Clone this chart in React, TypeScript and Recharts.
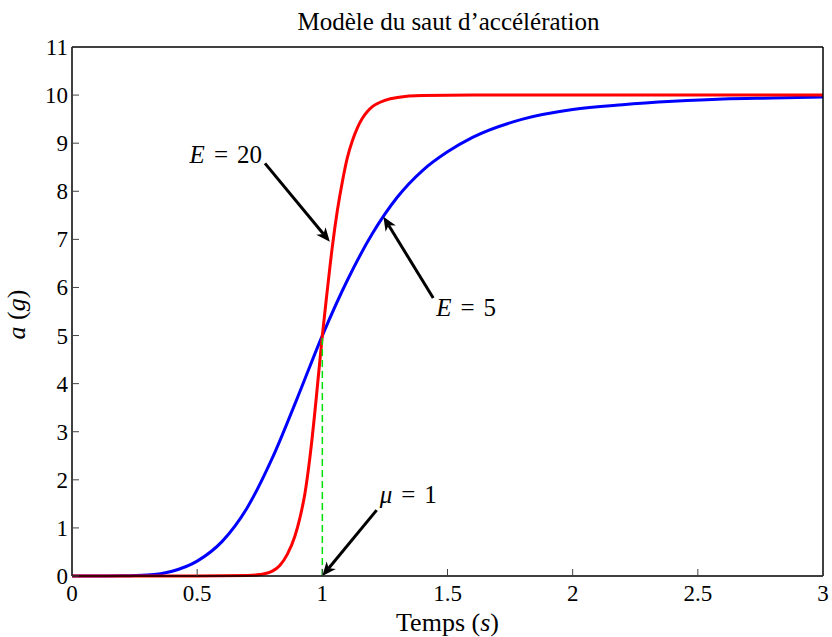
import React from "react";
import { LineChart, Line, XAxis, YAxis, ReferenceLine } from "recharts";

// E = 5 (blue)
const blueTime = [0, 0.1, 0.2, 0.3, 0.4, 0.5, 0.6, 0.7, 0.8, 0.9, 1.0, 1.1, 1.2, 1.3, 1.4, 1.5, 1.6, 1.8, 2.0, 2.2, 2.4, 2.6, 2.8, 3.0];
const blueAccel = [0, 0, 0.003, 0.02, 0.1, 0.31, 0.72, 1.42, 2.45, 3.7, 5.0, 6.15, 7.12, 7.88, 8.43, 8.82, 9.12, 9.5, 9.7, 9.8, 9.87, 9.92, 9.94, 9.96];

// E = 20 (red)
const redTime = [0, 0.5, 0.7, 0.75, 0.8, 0.83, 0.86, 0.89, 0.91, 0.93, 0.95, 0.97, 0.985, 1.0, 1.02, 1.04, 1.06, 1.08, 1.1, 1.12, 1.14, 1.16, 1.18, 1.2, 1.25, 1.3, 1.4, 1.6, 2.0, 2.5, 3.0];
const redAccel = [0, 0, 0.01, 0.03, 0.1, 0.22, 0.45, 0.82, 1.2, 1.7, 2.45, 3.4, 4.2, 5.0, 5.95, 6.85, 7.6, 8.2, 8.7, 9.05, 9.32, 9.52, 9.66, 9.76, 9.89, 9.95, 9.99, 10, 10, 10, 10];

const xTicks = [0, 0.5, 1, 1.5, 2, 2.5, 3];
const yTicks = [0, 1, 2, 3, 4, 5, 6, 7, 8, 9, 10, 11];

// annotations (data coordinates)
const arrowSymbol = ["E", "E", "μ"];
const arrowValue = ["20", "5", "1"];
const arrowStartT = [0.771, 1.443, 1.217];
const arrowStartA = [8.58, 5.78, 1.37];
const arrowTipT = [1.03, 1.244, 1.0];
const arrowTipA = [6.95, 7.47, 0];

const muT = 1;
const muA = 5;

const blueData = blueTime.map((t, i) => ({ t, a: blueAccel[i] }));
const redData = redTime.map((t, i) => ({ t, a: redAccel[i] }));

const FONT = "'Liberation Serif', 'Times New Roman', serif";
const TICK_LEN = 7;
const TICK_COLOR = "#444";

// label placement relative to arrow tail: [dx, dy, anchor]
const LABEL_POS: [number, number, "start" | "end"][] = [
  [-3, 0, "end"],
  [3, 18, "start"],
  [3, -7, "start"],
];

const makeArrow = (i: number) => (props: any) => {
  const { x1, y1, x2, y2 } = props;
  const dx = x2 - x1;
  const dy = y2 - y1;
  const len = Math.hypot(dx, dy) || 1;
  const ux = dx / len;
  const uy = dy / len;
  const nx = -uy;
  const ny = ux;
  const hl = 14;
  const hw = 6;
  const bx = x2 - ux * hl;
  const by = y2 - uy * hl;
  const notchX = x2 - ux * (hl - 4);
  const notchY = y2 - uy * (hl - 4);
  const pts = [
    [x2, y2],
    [bx + nx * hw, by + ny * hw],
    [notchX, notchY],
    [bx - nx * hw, by - ny * hw],
  ]
    .map((p) => p.join(","))
    .join(" ");
  const [ox, oy, anchor] = LABEL_POS[i];
  return (
    <g>
      <line x1={x1} y1={y1} x2={notchX} y2={notchY} stroke="#000" strokeWidth={3} />
      <polygon points={pts} fill="#000" />
      <text x={x1 + ox} y={y1 + oy} textAnchor={anchor} fontSize={25} style={{ fontFamily: FONT }} fill="#000">
        <tspan fontStyle="italic">{arrowSymbol[i]}</tspan>
        <tspan dx={9}>=</tspan>
        <tspan dx={9}>{arrowValue[i]}</tspan>
      </text>
    </g>
  );
};

const BottomTick = (props: any) => {
  const { x, y, payload } = props;
  return (
    <g>
      <line x1={x} y1={y} x2={x} y2={y - TICK_LEN} stroke={TICK_COLOR} />
      <text x={x} y={y + 25} textAnchor="middle" fontSize={23} style={{ fontFamily: FONT }} fill="#000">
        {String(payload.value)}
      </text>
    </g>
  );
};

const LeftTick = (props: any) => {
  const { x, y, payload } = props;
  return (
    <g>
      <line x1={x} y1={y} x2={x + TICK_LEN} y2={y} stroke={TICK_COLOR} />
      <text x={x - 4} y={y + 8} textAnchor="end" fontSize={23} style={{ fontFamily: FONT }} fill="#000">
        {String(payload.value)}
      </text>
    </g>
  );
};

const TopTick = (props: any) => {
  const { x, y } = props;
  return <line x1={x} y1={y} x2={x} y2={y + TICK_LEN} stroke={TICK_COLOR} />;
};

const RightTick = (props: any) => {
  const { x, y } = props;
  return <line x1={x} y1={y} x2={x - TICK_LEN} y2={y} stroke={TICK_COLOR} />;
};

const TitleLabel = (props: any) => {
  const vb = props.viewBox || {};
  const cx = (vb.x ?? 72) + (vb.width ?? 751) / 2;
  return (
    <text x={cx + 1} y={30} textAnchor="middle" fontSize={25} style={{ fontFamily: FONT }} fill="#000">
      Modèle du saut d’accélération
    </text>
  );
};

const XLabel = (props: any) => {
  const vb = props.viewBox || {};
  const cx = (vb.x ?? 72) + (vb.width ?? 751) / 2;
  return (
    <text x={cx} y={631} textAnchor="middle" fontSize={26} fill="#000" style={{ whiteSpace: "pre", fontFamily: FONT }}>
      Temps (<tspan fontStyle="italic">s</tspan>)
    </text>
  );
};

const YLabel = (props: any) => {
  const vb = props.viewBox || {};
  const cy = (vb.y ?? 47) + (vb.height ?? 529) / 2 + 3;
  const x = 25;
  return (
    <text
      x={x}
      y={cy}
      transform={`rotate(-90, ${x}, ${cy})`}
      textAnchor="middle"
      fontSize={26}
      fill="#000"
      style={{ whiteSpace: "pre", fontFamily: FONT }}
    >
      <tspan fontStyle="italic">a</tspan>
      {" ("}
      <tspan fontStyle="italic">g</tspan>)
    </text>
  );
};

export default function App() {
  return (
    <div style={{ position: "absolute", left: 0, top: 0, background: "#fff", fontFamily: FONT }}>
      <LineChart width={832} height={637} margin={{ top: 46, right: 8, left: 0, bottom: 0 }}>
        <XAxis
          dataKey="t"
          type="number"
          domain={[0, 3]}
          ticks={xTicks}
          height={61}
          tickSize={0}
          tickMargin={0}
          tick={BottomTick}
          axisLine={{ stroke: "#000", strokeWidth: 1.5 }}
          tickLine={false}
          label={XLabel}
        />
        <XAxis
          xAxisId="top"
          orientation="top"
          dataKey="t"
          type="number"
          domain={[0, 3]}
          ticks={xTicks}
          height={1}
          tickSize={0}
          tickMargin={0}
          tick={TopTick}
          axisLine={{ stroke: "#000", strokeWidth: 1.5 }}
          tickLine={false}
          label={TitleLabel}
        />
        <YAxis
          type="number"
          domain={[0, 11]}
          ticks={yTicks}
          width={72}
          tickSize={0}
          tickMargin={0}
          tick={LeftTick}
          axisLine={{ stroke: "#000", strokeWidth: 1.5 }}
          tickLine={false}
          label={YLabel}
        />
        <YAxis
          yAxisId="right"
          orientation="right"
          type="number"
          domain={[0, 11]}
          ticks={yTicks}
          width={1}
          tickSize={0}
          tickMargin={0}
          tick={RightTick}
          axisLine={{ stroke: "#000", strokeWidth: 1.5 }}
          tickLine={false}
        />
        <Line data={blueData} dataKey="a" type="monotone" stroke="#0000ff" strokeWidth={3} dot={false} isAnimationActive={false} />
        <Line data={redData} dataKey="a" type="monotone" stroke="#ff0000" strokeWidth={3} dot={false} isAnimationActive={false} />
        <ReferenceLine
          segment={[
            { x: muT, y: 0 },
            { x: muT, y: muA },
          ]}
          stroke="#00e000"
          strokeWidth={1.5}
          strokeDasharray="7 4"
        />
        {arrowSymbol.map((_, i) => (
          <ReferenceLine
            key={i}
            segment={[
              { x: arrowStartT[i], y: arrowStartA[i] },
              { x: arrowTipT[i], y: arrowTipA[i] },
            ]}
            shape={makeArrow(i)}
          />
        ))}
      </LineChart>
    </div>
  );
}
